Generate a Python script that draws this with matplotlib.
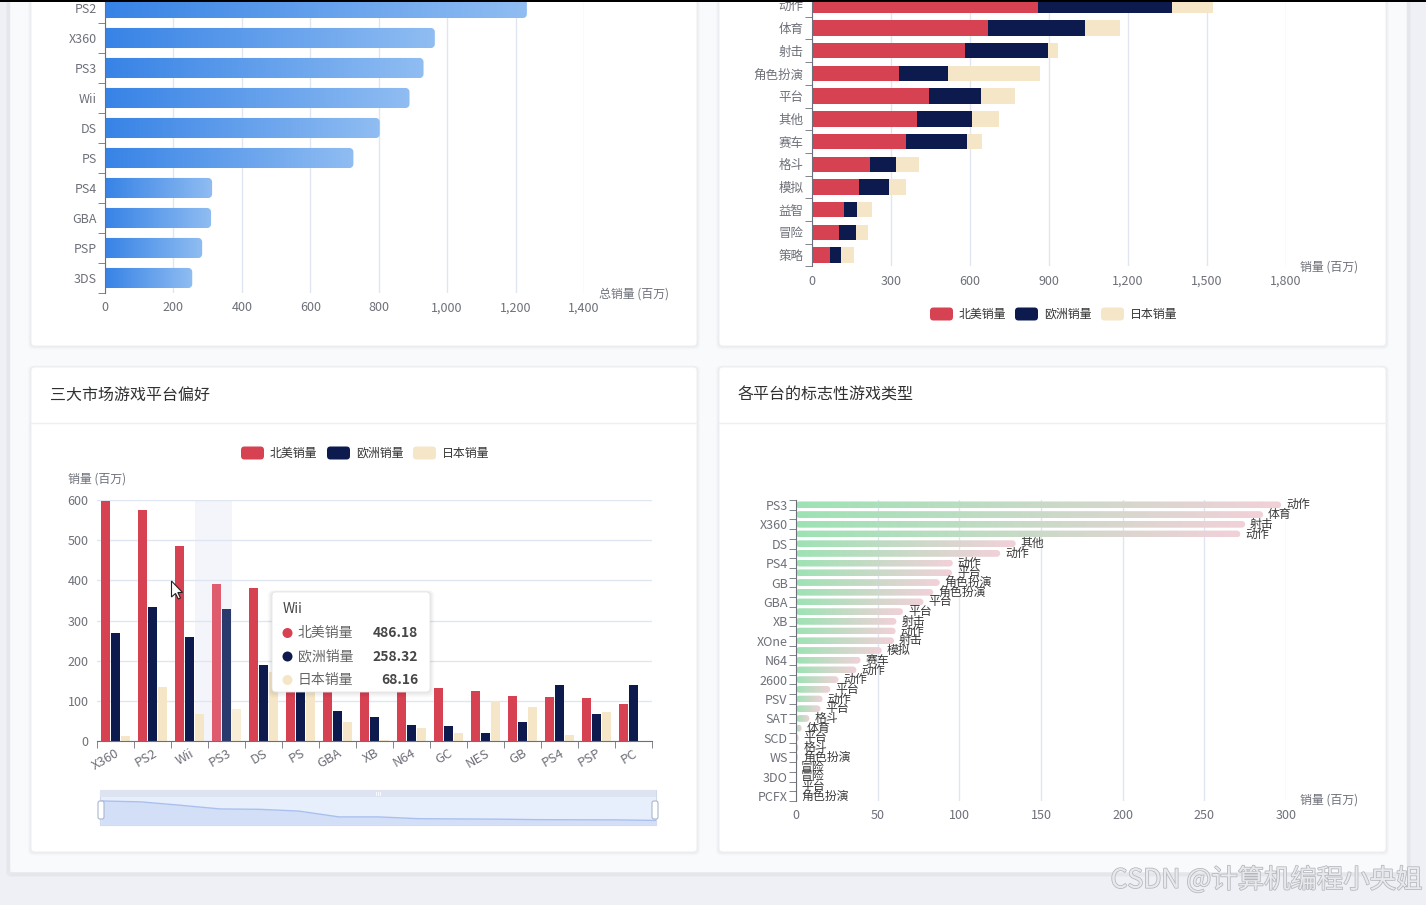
import numpy as np
import matplotlib
matplotlib.use('Agg')
import matplotlib.pyplot as plt
import matplotlib.patheffects as pe
from matplotlib.patches import FancyBboxPatch, Polygon, Rectangle, Circle
from matplotlib.colors import LinearSegmentedColormap
from matplotlib.ticker import FuncFormatter

plt.rcParams['font.family'] = ['Noto Sans CJK SC', 'DejaVu Sans']

W, H = 1426, 905

# 平台总销量
platform_names = ['PS2', 'X360', 'PS3', 'Wii', 'DS', 'PS', 'PS4', 'GBA', 'PSP', '3DS']
platform_total = [1233, 964, 931, 890, 803, 726, 313, 310, 284, 255]

# 各类型三大市场销量
genre_names = ['动作', '体育', '射击', '角色扮演', '平台', '其他', '赛车', '格斗', '模拟', '益智', '冒险', '策略']
genre_na = [860, 667, 582, 330, 443, 397, 356, 220, 180, 121, 102, 69]
genre_eu = [507, 371, 313, 185, 198, 210, 233, 98, 113, 49, 64, 42]
genre_jp = [154, 132, 38, 351, 131, 104, 56, 87, 63, 56, 45, 50]

# 三大市场游戏平台偏好
market_platforms = ['X360', 'PS2', 'Wii', 'PS3', 'DS', 'PS', 'GBA', 'XB', 'N64', 'GC', 'NES', 'GB', 'PS4', 'PSP', 'PC']
market_na = [597.5, 574, 486.18, 390.6, 380.6, 334, 184, 184, 138, 131, 125.5, 113, 109, 107, 93]
market_eu = [269, 333, 258.32, 328, 189, 212, 74, 59, 41, 38, 21, 47, 140, 66, 140]
market_jp = [12.5, 135, 68.16, 79, 172, 139, 46.5, 1.4, 33, 21, 99, 85, 15, 71, 0.2]
series_names = ['北美销量', '欧洲销量', '日本销量']
tooltip_platform = 'Wii'
hover_platform = 'PS3'

# 各平台的标志性游戏类型
sig_platforms = ['PS3', 'Wii', 'X360', 'PS2', 'DS', 'PS', 'PS4', 'NES', 'GB', '3DS',
                 'GBA', 'SNES', 'XB', 'PSP', 'XOne', 'PC', 'N64', 'GC', '2600', 'GEN',
                 'PSV', 'WiiU', 'SAT', 'DC', 'SCD', 'NG', 'WS', 'TG16', '3DO', 'GG', 'PCFX']
sig_genres = ['动作', '体育', '射击', '动作', '其他', '动作', '动作', '平台', '角色扮演', '角色扮演',
              '平台', '平台', '射击', '动作', '射击', '模拟', '赛车', '动作', '动作', '平台',
              '动作', '平台', '格斗', '体育', '平台', '格斗', '角色扮演', '冒险', '冒险', '平台', '角色扮演']
sig_sales = [297, 286, 275, 272, 134.5, 125, 96, 95.5, 88, 84,
             78, 65.5, 61.5, 61, 60, 52.5, 39.5, 37, 26, 21,
             16.3, 15, 8.2, 3.5, 1.6, 1.4, 1.2, 0.1, 0.1, 0.04, 0.03]

RED, NAVY, CREAM = '#d64252', '#0d1a4e', '#f5e6c8'
AXIS_GRAY = '#6e7079'
GRID = '#e0e6f1'

fig = plt.figure(figsize=(W / 100, H / 100), dpi=100, facecolor='#eef0f5')


def add_px_axes(x0, y0, x1, y1, z=1):
    ax = fig.add_axes([x0 / W, 1 - y1 / H, (x1 - x0) / W, (y1 - y0) / H], zorder=z)
    ax.set_facecolor('none')
    return ax


def bar_outline(x0, x1, yc, h, rx, ry, round_left):
    rx = min(rx, (x1 - x0) / 2)
    ry = min(ry, h / 2)
    ya, yb = yc - h / 2, yc + h / 2
    pts = []
    corners = [(x1 - rx, yb - ry, 0), (x0 + rx, yb - ry, 90), (x0 + rx, ya + ry, 180), (x1 - rx, ya + ry, 270)]
    for k, (cx, cy, a0) in enumerate(corners):
        if not round_left and k == 1:
            pts.append((x0, yb))
            continue
        if not round_left and k == 2:
            pts.append((x0, ya))
            continue
        for a in np.radians(np.linspace(a0, a0 + 90, 10)):
            pts.append((cx + rx * np.cos(a), cy + ry * np.sin(a)))
    return pts


def gradient_bars(ax, values, height, cmap, r_px, px_w, px_h, xspan, yspan, round_left):
    rx = r_px * xspan / px_w
    ry = r_px * yspan / px_h
    grad = np.linspace(0, 1, 256).reshape(1, -1)
    for i, v in enumerate(values):
        pts = bar_outline(0, v, i, height, rx, ry, round_left)
        poly = Polygon(pts, closed=True, facecolor='none', edgecolor='none', transform=ax.transData)
        ax.add_patch(poly)
        im = ax.imshow(grad, cmap=cmap, extent=(0, v, i + height / 2, i - height / 2),
                       aspect='auto', interpolation='bilinear', zorder=2)
        im.set_clip_path(poly)


def style_axis(ax, n_cat):
    for s in ['top', 'right', 'bottom']:
        ax.spines[s].set_visible(False)
    ax.spines['left'].set_color(AXIS_GRAY)
    ax.set_yticks(np.arange(-0.5, n_cat, 1.0), minor=True)
    ax.tick_params(axis='y', which='major', length=0, labelsize=9, labelcolor=AXIS_GRAY, pad=6)
    ax.tick_params(axis='y', which='minor', length=5, color=AXIS_GRAY, direction='out')
    ax.tick_params(axis='x', length=0, labelsize=9, labelcolor=AXIS_GRAY)
    ax.xaxis.grid(True, color=GRID, lw=1)
    ax.set_axisbelow(True)


comma = FuncFormatter(lambda v, p: f'{int(v):,}')

# ---------- background, cards ----------
bg = fig.add_axes([0, 0, 1, 1], zorder=0)
bg.set_xlim(0, W)
bg.set_ylim(H, 0)
bg.axis('off')
bg.add_patch(Rectangle((10, -10), 1397, 882, facecolor='#f9fafb', edgecolor='none'))
for k in range(4):
    bg.add_patch(FancyBboxPatch((10 - k, -10), 1397 + 2 * k, 882 + k + 1,
                                boxstyle='round,pad=0,rounding_size=4', facecolor='none',
                                edgecolor='#000000', alpha=0.02, lw=1.5))

cards = [(31, -10, 697, 346), (719, -10, 1386, 346), (31, 367, 697, 852), (719, 367, 1386, 852)]
for x0, y0, x1, y1 in cards:
    for k in range(5, 0, -1):
        bg.add_patch(FancyBboxPatch((x0 - k * 0.6, y0 - k * 0.3), x1 - x0 + k * 1.2, y1 - y0 + k,
                                    boxstyle='round,pad=0,rounding_size=5', facecolor='#000000',
                                    edgecolor='none', alpha=0.012))
    bg.add_patch(FancyBboxPatch((x0, y0), x1 - x0, y1 - y0, boxstyle='round,pad=0,rounding_size=4',
                                facecolor='white', edgecolor='#eceef2', lw=0.6))

bg.text(50, 395, '三大市场游戏平台偏好', fontsize=11.5, color='#303133', va='center', ha='left')
bg.text(738, 395, '各平台的标志性游戏类型', fontsize=11.5, color='#303133', va='center', ha='left')
bg.plot([31, 697], [422.5, 422.5], color='#edeff3', lw=1)
bg.plot([719, 1386], [422.5, 422.5], color='#edeff3', lw=1)


def legend_row(x_list, y):
    for (x, txt), col in zip(zip(x_list, series_names), [RED, NAVY, CREAM]):
        bg.add_patch(FancyBboxPatch((x, y - 6.5), 23, 13, boxstyle='round,pad=0,rounding_size=3.5',
                                    facecolor=col, edgecolor='none'))
        bg.text(x + 29, y, txt, fontsize=8.6, color='#333333', va='center', ha='left')


legend_row([930, 1015, 1101], 314)
legend_row([241, 327, 413], 453)

bg.text(599, 294, '总销量 (百万)', fontsize=8.6, color=AXIS_GRAY, va='center', ha='left')
bg.text(1300, 267, '销量 (百万)', fontsize=8.6, color=AXIS_GRAY, va='center', ha='left')
bg.text(68, 479, '销量 (百万)', fontsize=8.6, color=AXIS_GRAY, va='center', ha='left')
bg.text(1300, 800, '销量 (百万)', fontsize=8.6, color=AXIS_GRAY, va='center', ha='left')

# slider frame (behind the data shadow)
bg.add_patch(Rectangle((100, 790), 556, 35, facecolor='#e8effc', edgecolor='#cfd9ee', lw=0.8))
bg.add_patch(Rectangle((100, 790), 556, 7, facecolor='#dde3f0', edgecolor='none'))
for dx in (-2, 0, 2):
    bg.plot([378 + dx, 378 + dx], [792, 795], color='white', lw=0.6)

# ---------- top-left: platform totals ----------
ax1 = add_px_axes(105, -7, 584, 293)
blue_cmap = LinearSegmentedColormap.from_list('blue', ['#3783e6', '#90bdf2'])
gradient_bars(ax1, platform_total, 0.67, blue_cmap, 4, 479, 300, 1400, 10, False)
style_axis(ax1, len(platform_names))
ax1.set_yticks(range(len(platform_names)))
ax1.set_yticklabels(platform_names)
ax1.set_xticks(range(0, 1401, 200))
ax1.xaxis.set_major_formatter(comma)
ax1.tick_params(axis='x', pad=6)
ax1.set_xlim(0, 1400)
ax1.set_ylim(len(platform_names) - 0.5, -0.5)

# ---------- top-right: genres stacked ----------
ax2 = add_px_axes(812, -6, 1286, 266.5)
y2 = np.arange(len(genre_names))
ax2.barh(y2, genre_na, 0.68, color=RED, zorder=2)
ax2.barh(y2, genre_eu, 0.68, left=genre_na, color=NAVY, zorder=2)
ax2.barh(y2, genre_jp, 0.68, left=np.add(genre_na, genre_eu), color=CREAM, zorder=2)
style_axis(ax2, len(genre_names))
ax2.set_yticks(y2)
ax2.set_yticklabels(genre_names)
ax2.set_xticks(range(0, 1801, 300))
ax2.xaxis.set_major_formatter(comma)
ax2.tick_params(axis='x', pad=6)
ax2.set_xlim(0, 1800)
ax2.set_ylim(len(genre_names) - 0.5, -0.5)

# ---------- bottom-left: grouped bars ----------
ax3 = add_px_axes(97, 500, 652, 741)
x3 = np.arange(len(market_platforms))
hv = market_platforms.index(hover_platform)
ax3.axvspan(hv - 0.86, hv + 0.14, color='#f3f5fb', zorder=0.5, lw=0)
bw = 0.23
for off, vals, col, hcol in [(-0.273, market_na, RED, '#de5c6e'),
                             (0.0, market_eu, NAVY, '#2a3a6c'),
                             (0.273, market_jp, CREAM, '#f8edd6')]:
    cols = [hcol if i == hv else col for i in range(len(vals))]
    ax3.bar(x3 + off, vals, bw, color=cols, zorder=2)
for s in ['top', 'right', 'left']:
    ax3.spines[s].set_visible(False)
ax3.spines['bottom'].set_color(AXIS_GRAY)
ax3.set_xlim(-0.5, len(market_platforms) - 0.5)
ax3.set_ylim(0, 600)
ax3.set_yticks(range(0, 601, 100))
ax3.yaxis.grid(True, color=GRID, lw=1)
ax3.set_axisbelow(True)
ax3.tick_params(axis='y', length=0, labelsize=9, labelcolor=AXIS_GRAY, pad=6)
ax3.set_xticks(x3)
ax3.set_xticklabels(market_platforms, rotation=30, ha='right', va='top', rotation_mode='anchor')
ax3.tick_params(axis='x', which='major', length=0, labelsize=9.4, labelcolor=AXIS_GRAY, pad=4)
ax3.set_xticks(np.arange(-0.5, len(market_platforms), 1.0), minor=True)
ax3.tick_params(axis='x', which='minor', length=5, color=AXIS_GRAY)

# data zoom slider shadow
sl = add_px_axes(101, 797, 656, 825)
sl.axis('off')
xs = np.arange(len(market_na))
sl.fill_between(xs, -26, market_na, color='#d3dff7', lw=0)
sl.plot(xs, market_na, color='#a9c0ee', lw=1)
sl.set_xlim(0, len(market_na) - 1)
sl.set_ylim(-26, 700)

# ---------- bottom-right: signature genres ----------
ax4 = add_px_axes(796, 500, 1286, 801)
gm_cmap = LinearSegmentedColormap.from_list('gp', ['#9de3b4', '#f2d1d9'])
gradient_bars(ax4, sig_sales, 0.7, gm_cmap, 3.5, 490, 301, 300, 31, True)
style_axis(ax4, len(sig_platforms))
ax4.set_yticks(range(0, len(sig_platforms), 2))
ax4.set_yticklabels(sig_platforms[::2])
ax4.set_xticks(range(0, 301, 50))
ax4.tick_params(axis='x', pad=6)
for i, (v, g) in enumerate(zip(sig_sales, sig_genres)):
    ax4.text(v + 3, i, g, fontsize=8.6, color='#3a3a3a', va='center', ha='left', zorder=3)
ax4.set_xlim(0, 300)
ax4.set_ylim(len(sig_platforms) - 0.5, -0.5)

# ---------- overlay: slider handles, tooltip, cursor, watermark ----------
ov = fig.add_axes([0, 0, 1, 1], zorder=5)
ov.set_facecolor('none')
ov.set_xlim(0, W)
ov.set_ylim(H, 0)
ov.axis('off')

for hx in (101, 655):
    ov.add_patch(FancyBboxPatch((hx - 3, 801), 6, 18, boxstyle='round,pad=0,rounding_size=2',
                                facecolor='white', edgecolor='#aab6cf', lw=0.8))

# tooltip
ti = market_platforms.index(tooltip_platform)
for k in range(6, 0, -1):
    ov.add_patch(FancyBboxPatch((272 - k * 0.7, 592 - k * 0.3), 158 + k * 1.4, 100 + k * 1.2,
                                boxstyle='round,pad=0,rounding_size=5', facecolor='#000000',
                                edgecolor='none', alpha=0.015))
ov.add_patch(FancyBboxPatch((272, 592), 158, 100, boxstyle='round,pad=0,rounding_size=4',
                            facecolor='white', edgecolor='#e6e6e6', lw=0.6))
ov.text(283, 609, tooltip_platform, fontsize=10, color='#464646', va='center', ha='left')
for k, (name, col, vals) in enumerate(zip(series_names, [RED, NAVY, CREAM], [market_na, market_eu, market_jp])):
    yy = 633 + k * 23.5
    ov.add_patch(Circle((287.5, yy), 5, facecolor=col, edgecolor='none'))
    ov.text(298, yy, name, fontsize=10, color='#666666', va='center', ha='left')
    ov.text(418, yy, f'{vals[ti]:.2f}', fontsize=10, color='#464646', va='center', ha='right',
            fontweight='bold')

# mouse cursor
cur = np.array([(0, 0), (0, 16), (4, 12.5), (6.8, 18), (9, 17), (6.3, 11.5), (11, 11.5)]) + (171.5, 581)
ov.add_patch(Polygon(cur, closed=True, facecolor='white', edgecolor='#222222', lw=0.8))

ov.text(1422, 880, 'CSDN @计算机编程小央姐', fontsize=19, color='#e8e9ec', va='center', ha='right',
        path_effects=[pe.withStroke(linewidth=1.1, foreground='#b4b6bc')])

ov.add_patch(Rectangle((0, 0), W, 2, facecolor='black', edgecolor='none'))

fig.savefig('out.png', dpi=100, facecolor=fig.get_facecolor())
